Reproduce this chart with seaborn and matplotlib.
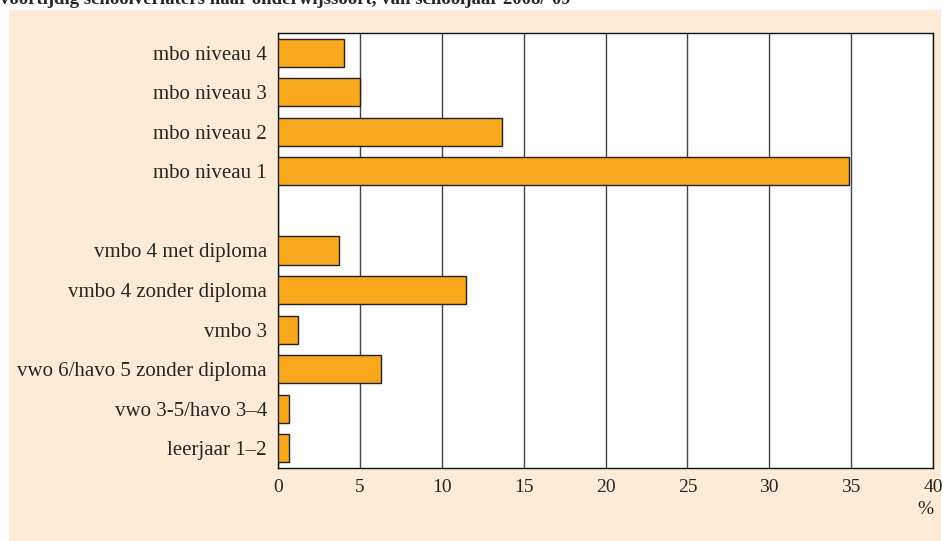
import pandas as pd
import matplotlib.pyplot as plt
import seaborn as sns
from matplotlib.patches import Rectangle

# data (percentages)
labels = ['mbo niveau 4', 'mbo niveau 3', 'mbo niveau 2', 'mbo niveau 1',
          'vmbo 4 met diploma', 'vmbo 4 zonder diploma', 'vmbo 3',
          'vwo 6/havo 5 zonder diploma', 'vwo 3-5/havo 3\u20134', 'leerjaar 1\u20132']
values = [4.0, 5.0, 13.7, 34.9, 3.7, 11.5, 1.2, 6.3, 0.7, 0.7]
order = labels[:4] + [' '] + labels[4:]
xticks = [0, 5, 10, 15, 20, 25, 30, 35, 40]

df = pd.DataFrame({'soort': labels, 'pct': values})

sns.set_theme(style='white')
plt.rcParams['font.family'] = ['Liberation Serif', 'DejaVu Serif']

fig = plt.figure(figsize=(9.43, 5.41), dpi=100)
fig.patch.set_facecolor('white')
fig.patches.append(Rectangle((9 / 943, 0), 932 / 943, 1 - 10 / 541,
                             transform=fig.transFigure, facecolor='#FDEBD7',
                             edgecolor='none', zorder=-10))

ax = fig.add_axes([278 / 943, 1 - 468 / 541, 655 / 943, 435 / 541])
ax.set_facecolor('white')
sns.barplot(data=df, x='pct', y='soort', order=order, orient='h', ax=ax,
            color='#F9A81E', saturation=1, width=0.71,
            edgecolor='#222222', linewidth=1, zorder=3)

ax.set_xlim(0, 40)
ax.set_xticks(xticks)
ax.set_xticklabels([str(t) for t in xticks], fontsize=14)
ax.tick_params(axis='y', labelsize=15, length=0, pad=8)
ax.tick_params(axis='x', length=0, pad=8)
ax.xaxis.grid(True, color='#444444', linewidth=1)
ax.set_axisbelow(True)
for s in ax.spines.values():
    s.set_color('#111111')
    s.set_linewidth(1)
ax.set_xlabel('')
ax.set_ylabel('')

fig.text(925 / 943, 1 - 510 / 541, '%', fontsize=14, ha='center', va='center')
fig.text(0.0, 1 - 4 / 541, "voortijdig schoolverlaters naar onderwijssoort, van schooljaar 2008/\u201909",
         fontsize=13.5, fontweight='bold', ha='left', va='baseline')

fig.savefig('out.png', dpi=100)
plt.close(fig)
